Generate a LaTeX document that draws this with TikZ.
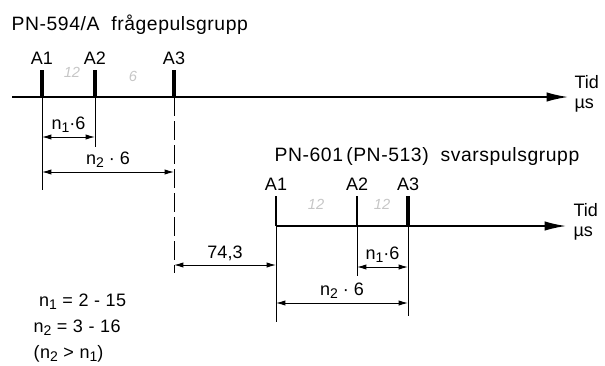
\documentclass[tikz,border=0pt]{standalone}
\usepackage{fontspec}
\setmainfont{Liberation Sans}
\newfontfamily\wide[LetterSpace=3]{Liberation Sans}
\usetikzlibrary{arrows.meta,positioning}
\tikzset{
  pg/.style={x=0.75pt, y=-0.75pt, font=\fontsize{13.5}{15}\selectfont},
  axis/.style={line width=1.1pt, -{Latex[length=16pt,width=7pt]}},
  pulse/.style={line width=2.4pt},
  ext/.style={line width=0.6pt},
  dim/.style={{Latex[length=7pt,width=4pt]}-{Latex[length=7pt,width=4pt]}, line width=0.7pt},
  tag/.style={inner sep=1pt},
  ttl/.style={tag, anchor=west, font=\wide\fontsize{14.5}{16}\selectfont},
  pencil/.style={gray!45, font=\itshape\fontsize{11}{12}\selectfont}
}
\newcommand{\nn}[1]{n\raisebox{-0.35ex}{\fontsize{10.5}{11}\selectfont #1}}

\begin{document}
\begin{tikzpicture}[pg]
\useasboundingbox (0,0) rectangle (605,365);
% fragepulsgrupp
\node[ttl] (ttl1) at (10,25) {PN-594/A\ \ frågepulsgrupp};
\coordinate (o1) at (12,97);
\coordinate (e1) at (568,97);
\draw[axis] (o1) -- (e1);
\node[tag, anchor=north west, align=left] (tid1) at (573,74) {Tid\\µs};
\foreach \n/\x in {1/42,2/95,3/174} {
  \coordinate (p\n) at (\x,97);
  \draw[pulse] (p\n) -- ++(0,-27) coordinate (q\n);
  \node[tag, above=3pt of q\n] (a\n) {A\n};
}
\draw[ext] (p1) -- ++(0,93) coordinate (f1);
\draw[ext] (p2) -- ++(0,50) coordinate (f2);
\draw[ext, dash pattern=on 14pt off 4pt] (p3) -- ++(0,176) coordinate (f3);
\coordinate (d1l) at (42,137); \coordinate (d1r) at (95,137);
\coordinate (d2l) at (42,172); \coordinate (d2r) at (174,172);
\draw[dim] (d1l) -- node[tag, above=2pt] (m1) {\nn{1}·6} (d1r);
\draw[dim] (d2l) -- node[tag, above=2pt] (m2) {\nn{2} · 6} (d2r);
\node[pencil] (s1) at (72,72) {12};
\node[pencil] (s2) at (133,76) {6};
% svarspulsgrupp
\node[ttl] (ttl2) at (273,156) {PN-601\,(PN-513)\ \ svarspulsgrupp};
\coordinate (o2) at (276,226);
\coordinate (e2) at (566,226);
\draw[axis] (o2) -- (e2);
\node[tag, anchor=north west, align=left] (tid2) at (572,202) {Tid\\µs};
\foreach \n/\x/\w in {1/276/1.6pt,2/357/1.8pt,3/408/3pt} {
  \coordinate (r\n) at (\x,226);
  \draw[pulse, line width=\w] (r\n) -- ++(0,-30) coordinate (t\n);
  \node[tag, above=3pt of t\n] (b\n) {A\n};
}
\draw[ext] (r1) -- ++(0,96) coordinate (g1);
\draw[ext] (r2) -- ++(0,50) coordinate (g2);
\draw[ext] (r3) -- ++(0,90) coordinate (g3);
\coordinate (d3l) at (174,265); \coordinate (d3r) at (276,265);
\coordinate (d4l) at (357,267); \coordinate (d4r) at (408,267);
\coordinate (d5l) at (276,303); \coordinate (d5r) at (408,303);
\draw[dim] (d3l) -- node[tag, above=2pt] (m3) {74,3} (d3r);
\draw[dim] (d4l) -- node[tag, above=2pt] (m4) {\nn{1}·6} (d4r);
\draw[dim] (d5l) -- node[tag, above=2pt] (m5) {\nn{2} · 6} (d5r);
\node[pencil] (s3) at (316,204) {12};
\node[pencil] (s4) at (382,204) {12};
% ranges
\node[tag, anchor=north west, align=left, font=\wide\fontsize{13.5}{19.5}\selectfont] (rng) at (32,292)
  {\ \nn{1} = 2 - 15\\ \nn{2} = 3 - 16\\(\nn{2} > \nn{1})};
\end{tikzpicture}
\end{document}
